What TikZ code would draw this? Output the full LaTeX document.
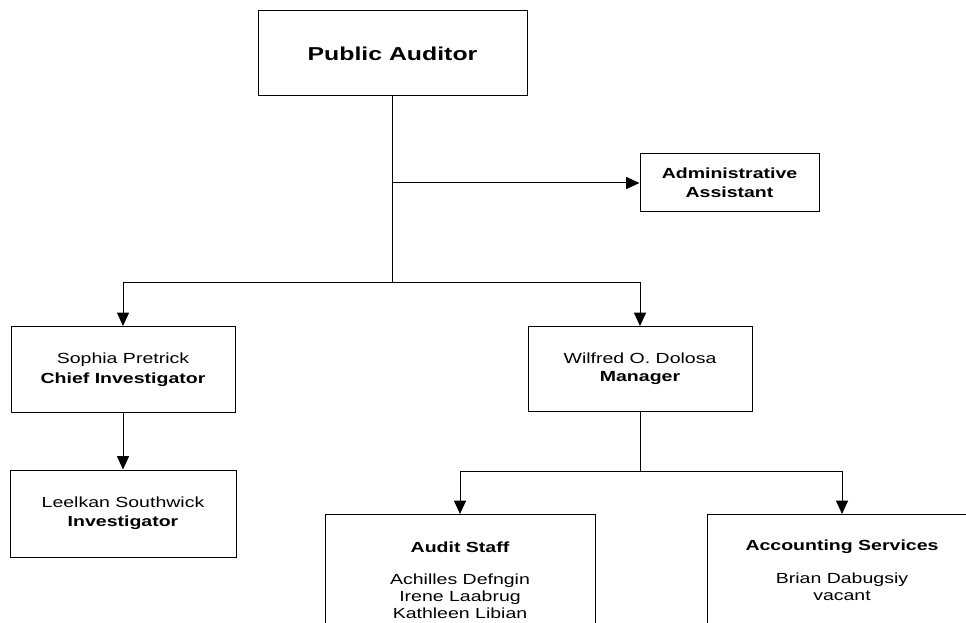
\documentclass[tikz,border=0pt]{standalone}
\usepackage{fontspec}
\setmainfont{Liberation Sans}[FakeStretch=1.33]
\usetikzlibrary{arrows.meta}

\begin{document}
\begin{tikzpicture}[x=0.75pt,y=0.75pt,yscale=-1,xscale=1,
  box/.style={draw, line width=0.75pt, align=center, inner sep=0pt, font=\fontsize{11}{14.5}\selectfont},
  arr/.style={line width=0.75pt, -{Triangle[length=10pt,width=9pt]}},
  link/.style={line width=0.75pt}]
%set diagram size to 966 x 623
\clip (0,0) rectangle (966,623);

%Shape: Rectangle [id:pa]
\node[box, minimum width=201.75pt, minimum height=63.75pt, font=\fontsize{14}{17}\selectfont\bfseries] (pa) at (392.5,53.5) {Public Auditor};
%Shape: Rectangle [id:admin]
\node[box, minimum width=134.25pt, minimum height=43.5pt, font=\fontsize{11}{14.25}\selectfont\bfseries] (admin) at (729.5,183) {Administrative\\Assistant};
%Shape: Rectangle [id:chief]
\node[box, minimum width=168pt, minimum height=64.5pt, font=\fontsize{11}{15}\selectfont] (chief) at (123,369.5) {Sophia Pretrick\\\textbf{Chief Investigator}};
%Shape: Rectangle [id:leel]
\node[box, minimum width=169.5pt, minimum height=65.25pt] (leel) at (123,513.5) {Leelkan Southwick\\\textbf{Investigator}};
%Shape: Rectangle [id:mgr]
\node[box, minimum width=168pt, minimum height=63.75pt, font=\fontsize{11}{13.5}\selectfont] (mgr) at (640,369) {Wilfred O. Dolosa\\\textbf{Manager}};
%Shape: Rectangle [id:audit]
\node[box, anchor=north, minimum width=202.5pt, inner ysep=20.5pt, font=\fontsize{11}{12.75}\selectfont] (audit) at (460,514) {\textbf{Audit Staff}\\[11.5pt]Achilles Defngin\\Irene Laabrug\\Kathleen Libian};
%Shape: Rectangle [id:acct]
\node[box, anchor=north, minimum width=202.5pt, inner ysep=19pt, font=\fontsize{11}{12.75}\selectfont] (acct) at (842,514) {\textbf{Accounting Services}\\[12pt]Brian Dabugsiy\\vacant};

%Branch points
\coordinate (j0) at (392.5,183);
\coordinate (j1) at (392.5,283);
\coordinate (j2) at (640,471);

%Straight Lines
\draw[link] (pa.south) -- (j1);
\draw[arr] (j0) -- (admin.west);
\draw[arr] (j1) -| (chief.north);
\draw[arr] (j1) -| (mgr.north);
\draw[arr] (chief.south) -- (leel.north);
\draw[link] (mgr.south) -- (j2);
\draw[arr] (j2) -| (audit.north);
\draw[arr] (j2) -| (acct.north);

\end{tikzpicture}
\end{document}
